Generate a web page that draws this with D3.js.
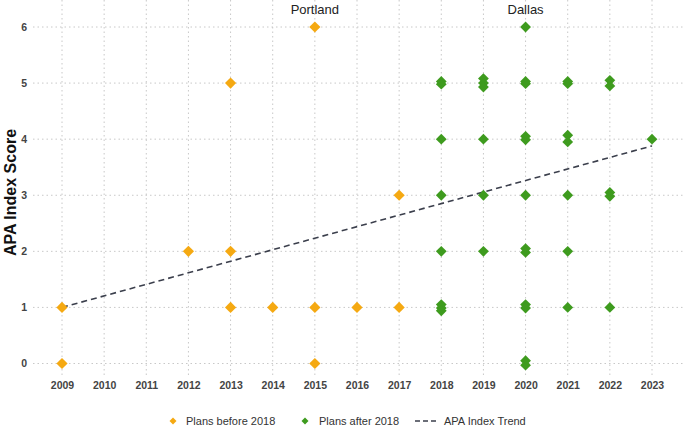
<!DOCTYPE html>
<html>
<head>
<meta charset="utf-8">
<script src="https://cdn.jsdelivr.net/npm/d3@7"></script>
<style>
  html, body { margin: 0; padding: 0; background: #fff; }
  svg { display: block; font-family: "Liberation Sans", Arial, sans-serif; }
</style>
</head>
<body>
<svg id="chart" width="685" height="427"></svg>
<script>
// ---- Data ----
const years = [2009, 2010, 2011, 2012, 2013, 2014, 2015, 2016, 2017, 2018, 2019, 2020, 2021, 2022, 2023];
const yTicks = [0, 1, 2, 3, 4, 5, 6];

// Plans before 2018 (year, APA index score)
const beforeYears  = [2009, 2009, 2012, 2013, 2013, 2013, 2014, 2015, 2015, 2015, 2016, 2017, 2017];
const beforeScores = [1,    0,    2,    5,    2,    1,    1,    6,    1,    0,    1,    3,    1];

// Plans after 2018 (slight overlaps)
const afterYears  = [2018, 2018, 2018, 2018, 2018, 2018, 2018, 2018,
                     2019, 2019, 2019, 2019, 2019, 2019,
                     2020, 2020, 2020, 2020, 2020, 2020, 2020, 2020, 2020, 2020, 2020, 2020,
                     2021, 2021, 2021, 2021, 2021, 2021, 2021,
                     2022, 2022, 2022, 2022, 2022,
                     2023];
const afterScores = [5.03, 4.98, 4, 3, 2, 1.05, 0.99, 0.94,
                     5.08, 5.0, 4.93, 4, 3, 2,
                     6, 5.03, 4.99, 4.05, 3.99, 3, 2.05, 1.98, 1.05, 0.99, 0.05, -0.03,
                     5.03, 4.99, 4.07, 3.95, 3, 2, 1,
                     5.05, 4.95, 3.05, 2.98, 1,
                     4];

// Trend line (start/end)
const trendYears  = [2009, 2023];
const trendScores = [1.0, 3.88];

// Annotations
const annoNames = ["Portland", "Dallas"];
const annoYears = [2015, 2020];

const legendLabels = ["Plans before 2018", "Plans after 2018", "APA Index Trend"];

// ---- Styles ----
const ORANGE = "#F5A912";
const GREEN = "#3E9B1E";
const GRID = "#c8c8c8";
const TREND = "#3b3f4c";

const svg = d3.select("#chart");

const x = d3.scaleLinear().domain([2009, 2023]).range([62, 652]);
const y = d3.scaleLinear().domain([0, 6]).range([363.5, 27]);

// Grid
const grid = svg.append("g");
grid.selectAll("line.v").data(years).join("line")
  .attr("x1", d => x(d)).attr("x2", d => x(d))
  .attr("y1", 0).attr("y2", 378)
  .attr("stroke", GRID).attr("stroke-width", 1).attr("stroke-dasharray", "1.5,3");
grid.selectAll("line.h").data(yTicks).join("line")
  .attr("x1", 33).attr("x2", 685)
  .attr("y1", d => y(d)).attr("y2", d => y(d))
  .attr("stroke", GRID).attr("stroke-width", 1).attr("stroke-dasharray", "1.5,3");

// Axes (labels only)
const xAxis = d3.axisBottom(x).tickValues(years).tickFormat(d3.format("d")).tickSize(0).tickPadding(0);
const gx = svg.append("g").attr("transform", "translate(0,382)").call(xAxis);
gx.select(".domain").remove();
gx.selectAll("text").attr("font-size", 10.5).attr("font-weight", "bold").attr("fill", "#444")
  .attr("font-family", "'Liberation Sans', Arial, sans-serif");

const yAxis = d3.axisLeft(y).tickValues(yTicks).tickFormat(d3.format("d")).tickSize(0).tickPadding(0);
const gy = svg.append("g").attr("transform", "translate(27,0)").call(yAxis);
gy.select(".domain").remove();
gy.selectAll("text").attr("font-size", 10.5).attr("font-weight", "bold").attr("fill", "#444")
  .attr("font-family", "'Liberation Sans', Arial, sans-serif");

// Y title
svg.append("text")
  .attr("transform", "translate(16,192.5) rotate(-90)")
  .attr("text-anchor", "middle")
  .attr("font-size", 16).attr("font-weight", "bold").attr("fill", "#111")
  .text("APA Index Score");

// Trend line
const trendData = trendYears.map((d, i) => [d, trendScores[i]]);
svg.append("path")
  .datum(trendData)
  .attr("d", d3.line().x(d => x(d[0])).y(d => y(d[1])))
  .attr("fill", "none").attr("stroke", TREND).attr("stroke-width", 1.6)
  .attr("stroke-dasharray", "6,4");

// Points
function sq(s) { // diamond path
  return `M0,${-s}L${s},0L0,${s}L${-s},0Z`;
}
const beforeData = beforeYears.map((d, i) => ({year: d, score: beforeScores[i]}));
const afterData = afterYears.map((d, i) => ({year: d, score: afterScores[i]}));

svg.append("g").selectAll("path").data(beforeData).join("path")
  .attr("transform", d => `translate(${x(d.year)},${y(d.score)})`)
  .attr("d", sq(5.6)).attr("fill", ORANGE);

svg.append("g").selectAll("path").data(afterData).join("path")
  .attr("transform", d => `translate(${x(d.year)},${y(d.score)})`)
  .attr("d", sq(5.4)).attr("fill", GREEN);

// Annotations
svg.append("g").selectAll("text").data(annoNames).join("text")
  .attr("x", (d, i) => x(annoYears[i]))
  .attr("y", 14)
  .attr("text-anchor", "middle")
  .attr("font-size", 13).attr("fill", "#222")
  .text(d => d);

// Legend
const lg = svg.append("g").attr("font-size", 11).attr("fill", "#333");
lg.append("path").attr("transform", "translate(173,421)").attr("d", sq(3.5)).attr("fill", ORANGE);
lg.append("text").attr("x", 186).attr("y", 425).text(legendLabels[0]);
lg.append("path").attr("transform", "translate(305,421)").attr("d", sq(3.5)).attr("fill", GREEN);
lg.append("text").attr("x", 319).attr("y", 425).text(legendLabels[1]);
lg.append("line").attr("x1", 415).attr("x2", 436).attr("y1", 421).attr("y2", 421)
  .attr("stroke", TREND).attr("stroke-width", 1.6).attr("stroke-dasharray", "5,3");
lg.append("text").attr("x", 444).attr("y", 425).text(legendLabels[2]);
</script>
</body>
</html>
